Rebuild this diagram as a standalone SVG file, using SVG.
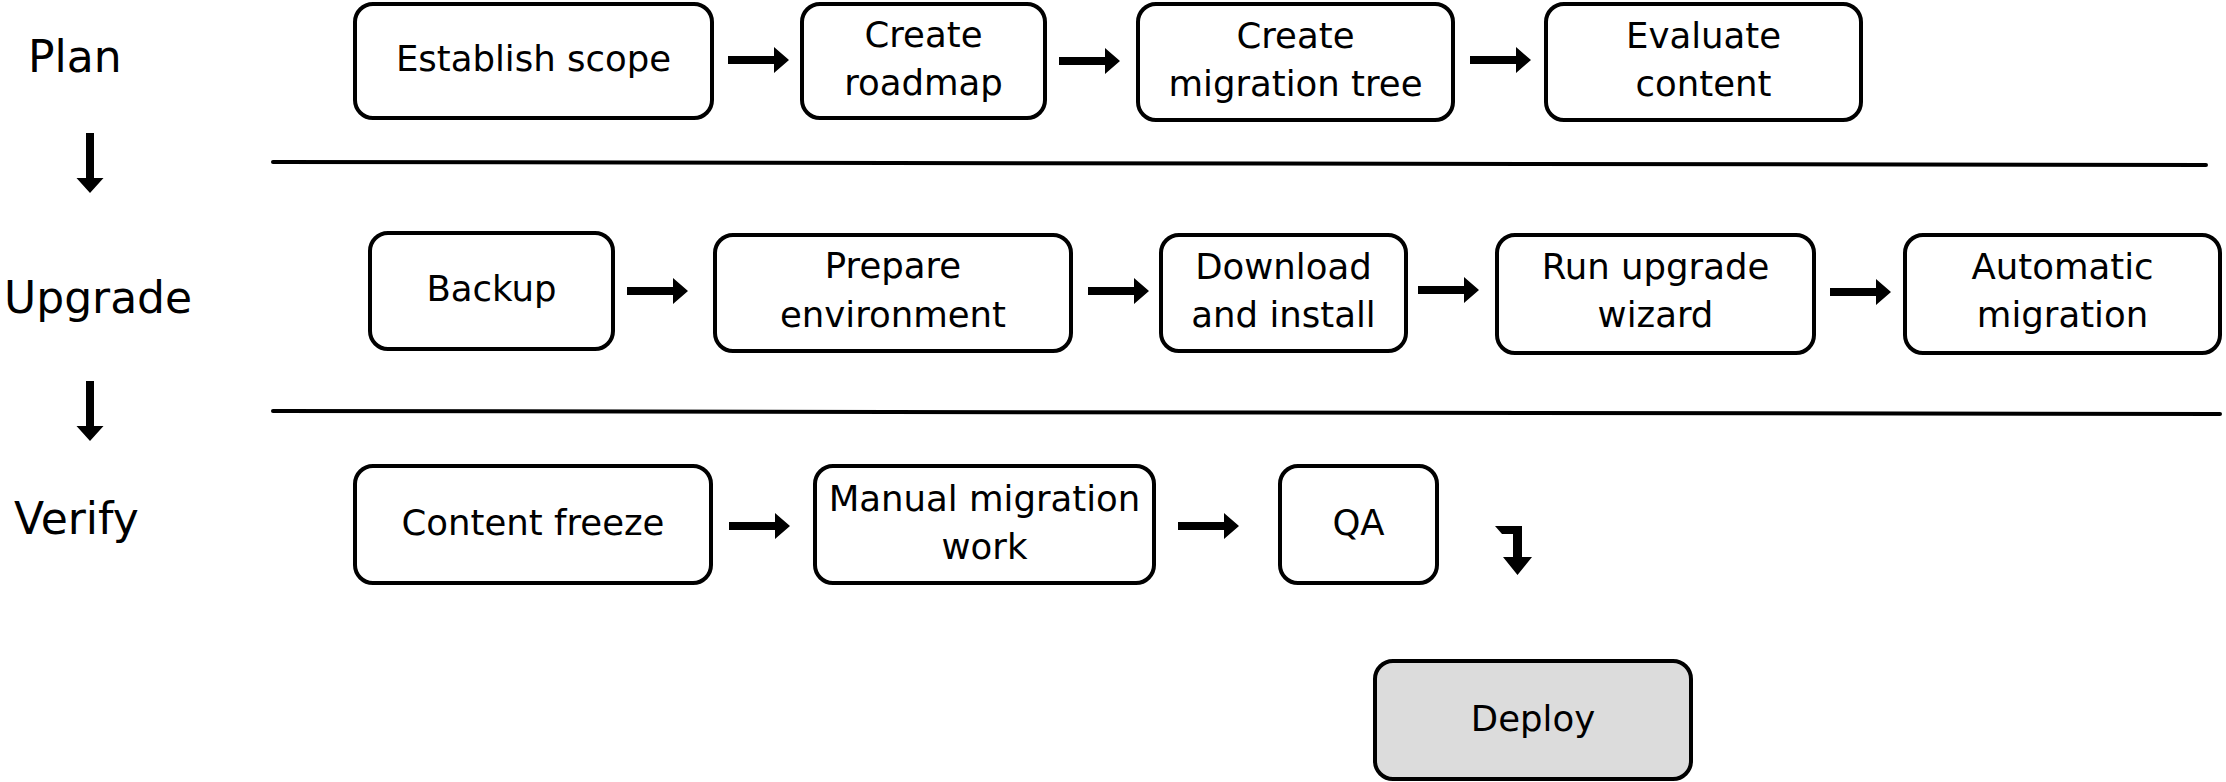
<svg xmlns="http://www.w3.org/2000/svg" xmlns:xlink="http://www.w3.org/1999/xlink" width="2226" height="782" viewBox="0 0 2226 782">
<style>
.box{fill:#ffffff;stroke:#000000;stroke-width:4}
.final{fill:#dcdcdc;stroke:#000000;stroke-width:4}
.t{font-family:"DejaVu Sans","Liberation Sans",sans-serif;font-size:35.5px;fill:#000000;text-anchor:middle}
.lbl{font-family:"DejaVu Sans","Liberation Sans",sans-serif;font-size:44px;fill:#000000}
.sep{stroke:#000000;stroke-width:4;stroke-linecap:round;fill:none}
</style>
<defs>
<path id="harrow" d="M0,-4 H46 V-13 L61,0 L46,13 V4 H0 Z" fill="#000000"/>
<path id="varrow" d="M-4,0 V45 H-13.5 L0,60 L13.5,45 H4 V0 Z" fill="#000000"/>
</defs>
<rect width="2226" height="782" fill="#ffffff"/>
<g id="phase-labels">
<text class="lbl" x="28" y="72">Plan</text>
<text class="lbl" x="4" y="313">Upgrade</text>
<text class="lbl" x="14" y="534">Verify</text>
</g>
<g id="separators">
<path class="sep" d="M273,162 L2206,165"/>
<path class="sep" d="M273,411 L2220,414"/>
</g>
<g id="establish-scope"><rect class="box" x="355" y="4" width="357" height="114" rx="18"/><text class="t" x="533.5" y="71">Establish scope</text></g>
<g id="create-roadmap"><rect class="box" x="802" y="4" width="243" height="114" rx="18"/><text class="t" x="923.5" y="47">Create</text><text class="t" x="923.5" y="95">roadmap</text></g>
<g id="create-migration-tree"><rect class="box" x="1138" y="4" width="315" height="116" rx="18"/><text class="t" x="1295.5" y="48">Create</text><text class="t" x="1295.5" y="96">migration tree</text></g>
<g id="evaluate-content"><rect class="box" x="1546" y="4" width="315" height="116" rx="18"/><text class="t" x="1703.5" y="48">Evaluate</text><text class="t" x="1703.5" y="96">content</text></g>
<g id="backup"><rect class="box" x="370" y="233" width="243" height="116" rx="18"/><text class="t" x="491.5" y="301">Backup</text></g>
<g id="prepare-environment"><rect class="box" x="715" y="235" width="356" height="116" rx="18"/><text class="t" x="893" y="278">Prepare</text><text class="t" x="893" y="327">environment</text></g>
<g id="download-install"><rect class="box" x="1161" y="235" width="245" height="116" rx="18"/><text class="t" x="1283.5" y="279">Download</text><text class="t" x="1283.5" y="327">and install</text></g>
<g id="run-upgrade-wizard"><rect class="box" x="1497" y="235" width="317" height="118" rx="18"/><text class="t" x="1655.5" y="279">Run upgrade</text><text class="t" x="1655.5" y="327">wizard</text></g>
<g id="automatic-migration"><rect class="box" x="1905" y="235" width="315" height="118" rx="18"/><text class="t" x="2062.5" y="279">Automatic</text><text class="t" x="2062.5" y="327">migration</text></g>
<g id="content-freeze"><rect class="box" x="355" y="466" width="356" height="117" rx="18"/><text class="t" x="533" y="535">Content freeze</text></g>
<g id="manual-migration-work"><rect class="box" x="815" y="466" width="339" height="117" rx="18"/><text class="t" x="984.5" y="511">Manual migration</text><text class="t" x="984.5" y="559">work</text></g>
<g id="qa"><rect class="box" x="1280" y="466" width="157" height="117" rx="18"/><text class="t" x="1358.5" y="535">QA</text></g>
<g id="deploy"><rect class="final" x="1375" y="661" width="316" height="118" rx="18"/><text class="t" x="1533" y="731">Deploy</text></g>
<g id="connectors">
<use xlink:href="#harrow" x="728" y="60"/>
<use xlink:href="#harrow" x="1059" y="61"/>
<use xlink:href="#harrow" x="1470" y="60"/>
<use xlink:href="#harrow" x="627" y="291"/>
<use xlink:href="#harrow" x="1088" y="291"/>
<use xlink:href="#harrow" x="1418" y="290"/>
<use xlink:href="#harrow" x="1830" y="292"/>
<use xlink:href="#harrow" x="729" y="526"/>
<use xlink:href="#harrow" x="1178" y="526"/>
<use xlink:href="#varrow" x="90" y="133"/>
<use xlink:href="#varrow" x="90" y="381"/>
<path d="M1495,526 H1522 V557 H1532 L1517.5,575 L1503,557 H1513 V534 H1502 Z" fill="#000000"/>
</g>
</svg>
